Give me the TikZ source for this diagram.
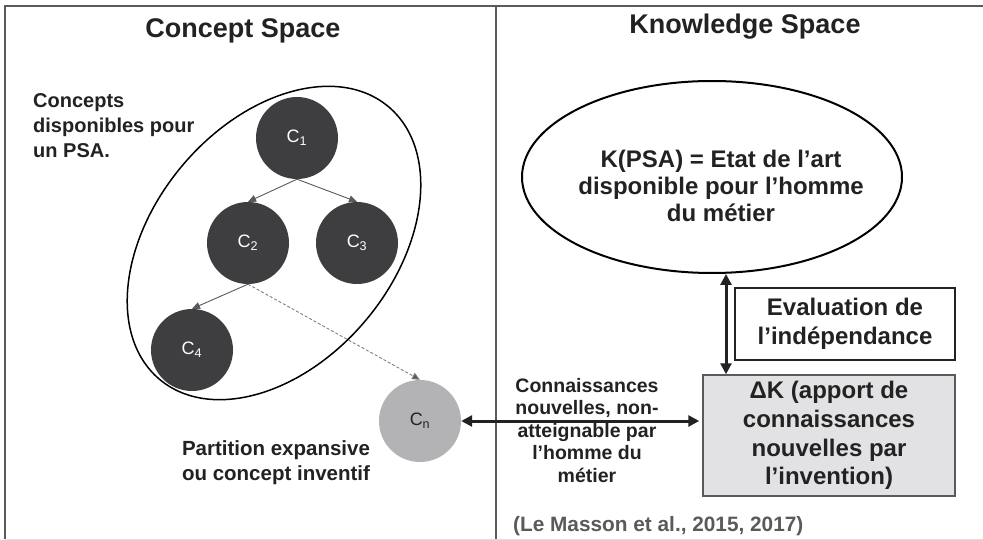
\documentclass[tikz,border=0pt]{standalone}
\usepackage{fontspec}
\setmainfont{Liberation Sans}
\usetikzlibrary{arrows.meta,calc,shapes.geometric}
\definecolor{dkfill}{HTML}{3E3E40}
\definecolor{cnfill}{HTML}{B3B3B5}
\definecolor{boxfill}{HTML}{E2E2E4}
\definecolor{framec}{HTML}{5A5A5C}
\definecolor{txt}{HTML}{222222}
\tikzset{
  dcirc/.style={circle, fill=dkfill, minimum size=82pt, inner sep=0pt, text=white, font=\fontsize{18}{20}\selectfont},
  lcirc/.style={circle, fill=cnfill, minimum size=82pt, inner sep=0pt, text=txt, font=\fontsize{18}{20}\selectfont},
  thinarr/.style={draw=framec, line width=0.9pt, -{Triangle[length=8pt,width=7pt]}},
  dasharr/.style={draw=gray, line width=0.9pt, dash pattern=on 3pt off 2pt, -{Triangle[length=8pt,width=7pt,fill=framec]}},
  bigarr/.style={draw=txt, line width=3pt, {Triangle[length=11pt,width=11pt]}-{Triangle[length=11pt,width=11pt]}},
  lbl/.style={inner sep=0pt, text=txt, font=\bfseries\fontsize{20}{25}\selectfont},
  title/.style={inner sep=0pt, text=txt, font=\bfseries\fontsize{27}{30}\selectfont},
  bigtxt/.style={inner sep=0pt, text=txt, align=center, font=\bfseries\fontsize{24}{27}\selectfont},
}
\begin{document}
\begin{tikzpicture}[x=1pt,y=-1pt]
\useasboundingbox (0,0) rectangle (983,540);
\fill[white] (0,0) rectangle (983,540);
% frame
\draw[gray!25, line width=1pt] (5,539) -- (983,539);
\draw[framec, line width=2pt] (5,539) -- (5,6) -- (983,6);
\draw[framec, line width=1.5pt] (496,6) -- (496,539);
% titles
\node[title, anchor=base] (t1) at (243,38) {Concept Space};
\node[title, anchor=base] (t2) at (745,34) {Knowledge Space};
% concept space
\draw[black, line width=1.5pt, rotate around={50:(274,243)}] (274,243) ellipse [x radius=178, y radius=120];
\node[lbl, anchor=north west, align=left] (cdisp) at (33,93.5) {Concepts\\disponibles pour\\un PSA.};
\node[dcirc] (c1) at (297,138) {C\textsubscript{1}};
\node[dcirc] (c2) at (248,243) {C\textsubscript{2}};
\node[dcirc] (c3) at (357,243) {C\textsubscript{3}};
\node[dcirc] (c4) at (192,350) {C\textsubscript{4}};
\node[lcirc] (cn) at (420,421) {C\textsubscript{n}};
\draw[thinarr] (c1.south) -- (c2.north);
\draw[thinarr] (c1.south) -- (c3.north);
\draw[thinarr] (c2.south) -- (c4.north);
\draw[dasharr] (c2.south) -- (cn.north);
\node[lbl, anchor=north, align=center, font=\bfseries\fontsize{20.5}{25}\selectfont] (part) at (276,440) {Partition expansive\\ou concept inventif};
% knowledge space
\node[draw=black, line width=2pt, ellipse, minimum width=380pt, minimum height=192pt, inner sep=0pt] (kpsa) at (712,177) {};
\node[bigtxt, anchor=north] (ktext) at (721,149.5) {K(PSA) = Etat de l’art\\disponible pour l’homme\\du métier};
\node[draw=txt, line width=1.5pt, minimum width=220pt, minimum height=72pt, inner sep=0pt, bigtxt, font=\bfseries\fontsize{24}{29}\selectfont] (ev) at (845,324) {Evaluation de\\l’indépendance};
\node[draw=framec, fill=boxfill, line width=1.5pt, minimum width=252pt, minimum height=121pt, inner sep=0pt, bigtxt, font=\bfseries\fontsize{24}{28.7}\selectfont] (dk) at (829,435.5) {ΔK (apport de\\connaissances\\nouvelles par\\l’invention)};
\coordinate (va) at ($(kpsa.south)+(14,0)$);
\draw[bigarr] (va) -- (va |- dk.north);
\node[lbl, anchor=north, align=center, font=\bfseries\fontsize{19.5}{22.5}\selectfont] (conn) at (587,378) {Connaissances\\nouvelles, non-\\atteignable par\\l’homme du\\métier};
\draw[bigarr, shorten >=3pt] (cn.east) -- (cn.east -| dk.west);
\node[inner sep=0pt, anchor=base west, text=framec, font=\bfseries\fontsize{20.8}{24}\selectfont] (cite) at (513,531) {(Le Masson et al., 2015, 2017)};
\end{tikzpicture}
\end{document}
